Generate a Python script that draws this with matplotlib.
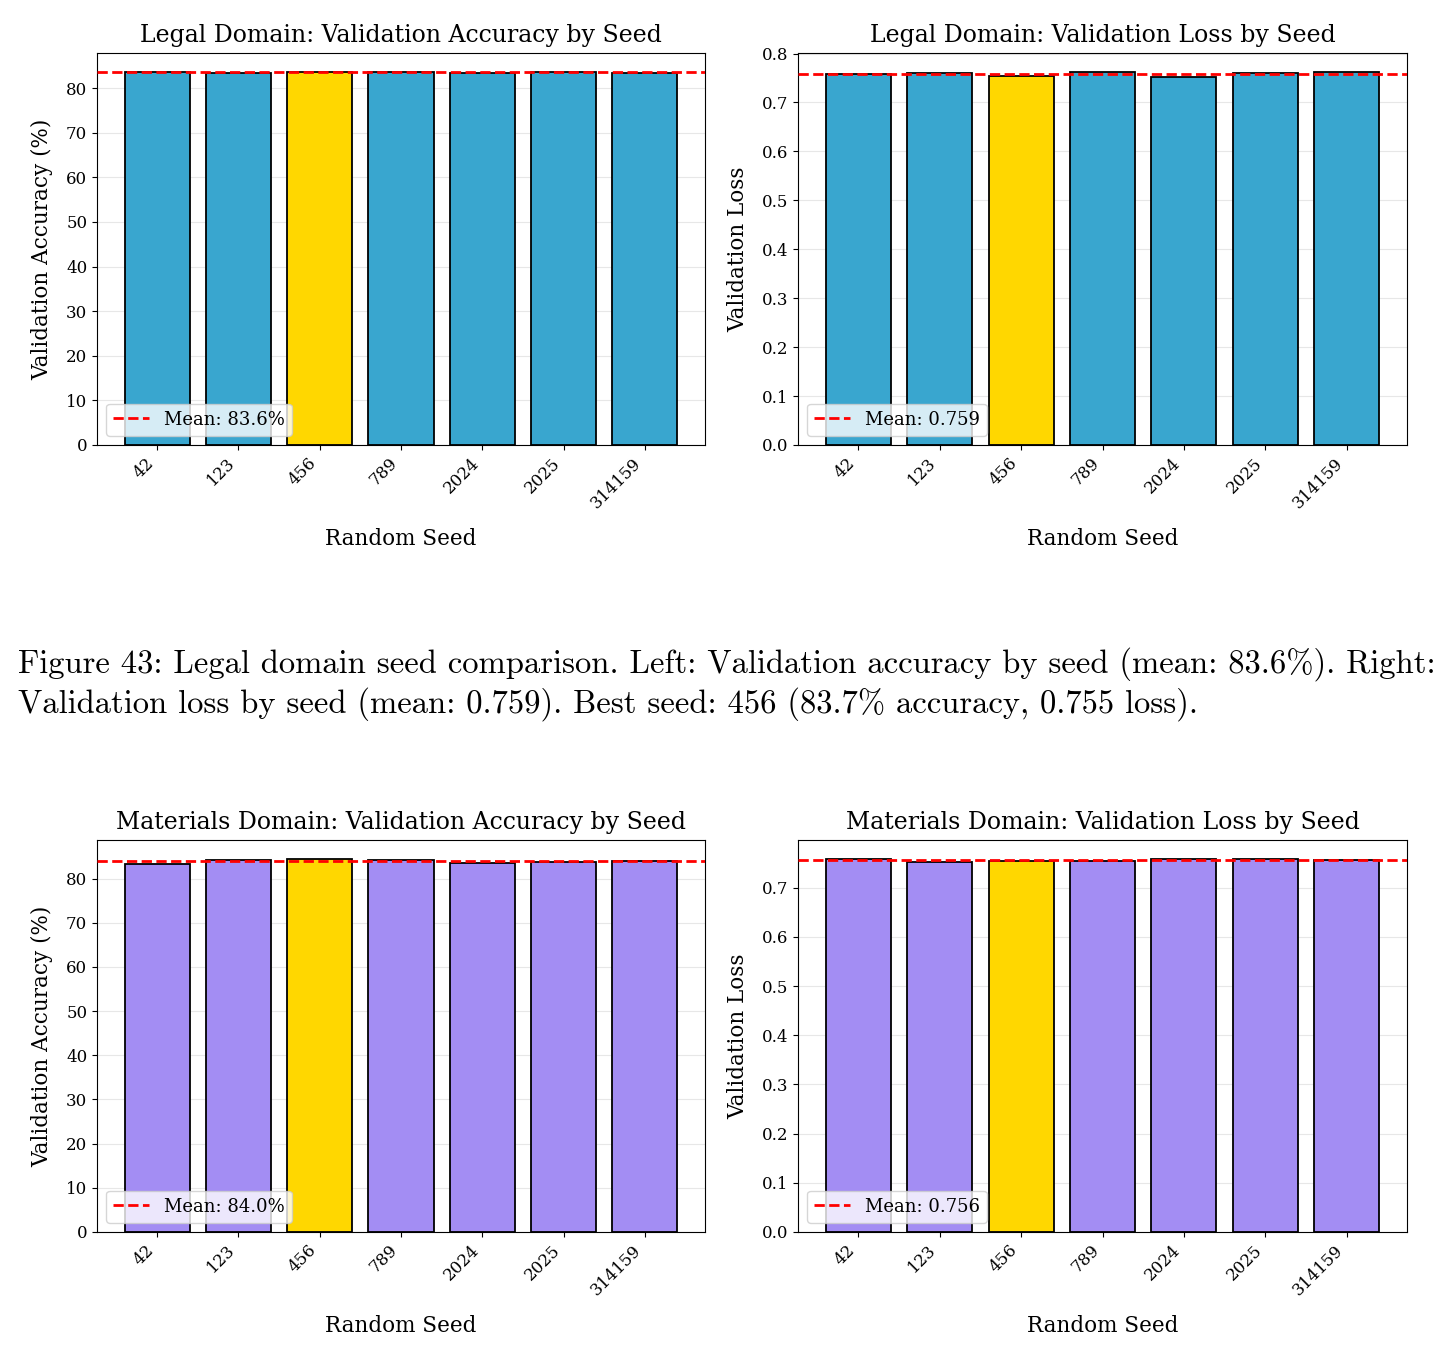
import numpy as np
import matplotlib
matplotlib.use('Agg')
import matplotlib.pyplot as plt

seeds = ['42', '123', '456', '789', '2024', '2025', '314159']
best_seed = '456'

legal_acc = [83.6, 83.5, 83.7, 83.6, 83.5, 83.7, 83.5]
legal_loss = [0.759, 0.760, 0.755, 0.762, 0.752, 0.760, 0.763]
materials_acc = [83.3, 84.3, 84.5, 84.3, 83.6, 83.8, 84.0]
materials_loss = [0.759, 0.752, 0.754, 0.754, 0.758, 0.759, 0.757]

legal_color = '#39A6CF'
materials_color = '#A38DF3'
best_color = '#FFD700'

plt.rcParams['font.family'] = ['DejaVu Serif']

W, H = 1441, 1361
fig = plt.figure(figsize=(W / 100, H / 100), dpi=100)


def px_axes(left, top, right, bottom):
    return fig.add_axes([left / W, 1 - bottom / H, (right - left) / W, (bottom - top) / H])


def draw_panel(ax, values, color, title, ylabel, mean_fmt):
    x = np.arange(len(seeds))
    colors = [best_color if s == best_seed else color for s in seeds]
    ax.bar(x, values, color=colors, edgecolor='black', linewidth=1.3, width=0.8, zorder=2)
    mean = np.mean(values)
    ax.axhline(mean, color='red', linestyle='--', linewidth=2, label=mean_fmt.format(mean), zorder=3)
    ax.set_xticks(x)
    ax.set_xticklabels(seeds, rotation=45, ha='right', fontsize=12)
    ax.tick_params(axis='y', labelsize=12)
    ax.set_xlabel('Random Seed', fontsize=15.5, labelpad=12)
    ax.set_ylabel(ylabel, fontsize=15.5, labelpad=9)
    ax.set_title(title, fontsize=17, pad=8)
    ax.grid(axis='y', alpha=0.3, zorder=0)
    ax.set_axisbelow(True)
    ax.legend(loc='lower left', fontsize=13)


ax1 = px_axes(97, 53, 705, 445)
ax2 = px_axes(798, 53, 1407, 445)
ax3 = px_axes(97, 840, 705, 1232)
ax4 = px_axes(798, 840, 1407, 1232)

draw_panel(ax1, legal_acc, legal_color, 'Legal Domain: Validation Accuracy by Seed',
           'Validation Accuracy (%)', 'Mean: {:.1f}%')
draw_panel(ax2, legal_loss, legal_color, 'Legal Domain: Validation Loss by Seed',
           'Validation Loss', 'Mean: {:.3f}')
draw_panel(ax3, materials_acc, materials_color, 'Materials Domain: Validation Accuracy by Seed',
           'Validation Accuracy (%)', 'Mean: {:.1f}%')
draw_panel(ax4, materials_loss, materials_color, 'Materials Domain: Validation Loss by Seed',
           'Validation Loss', 'Mean: {:.3f}')

caption1 = ('Figure 43: Legal domain seed comparison. Left: Validation accuracy by seed '
            '(mean: 83.6%). Right:')
caption2 = ('Validation loss by seed (mean: 0.759). Best seed: 456 (83.7% accuracy, 0.755 loss).')
fig.text(18 / W, 1 - 664 / H, caption1, fontsize=23.5, family=['cmr10', 'DejaVu Serif'], va='center')
fig.text(18 / W, 1 - 704 / H, caption2, fontsize=23.5, family=['cmr10', 'DejaVu Serif'], va='center')

fig.savefig('out.png', dpi=100)
